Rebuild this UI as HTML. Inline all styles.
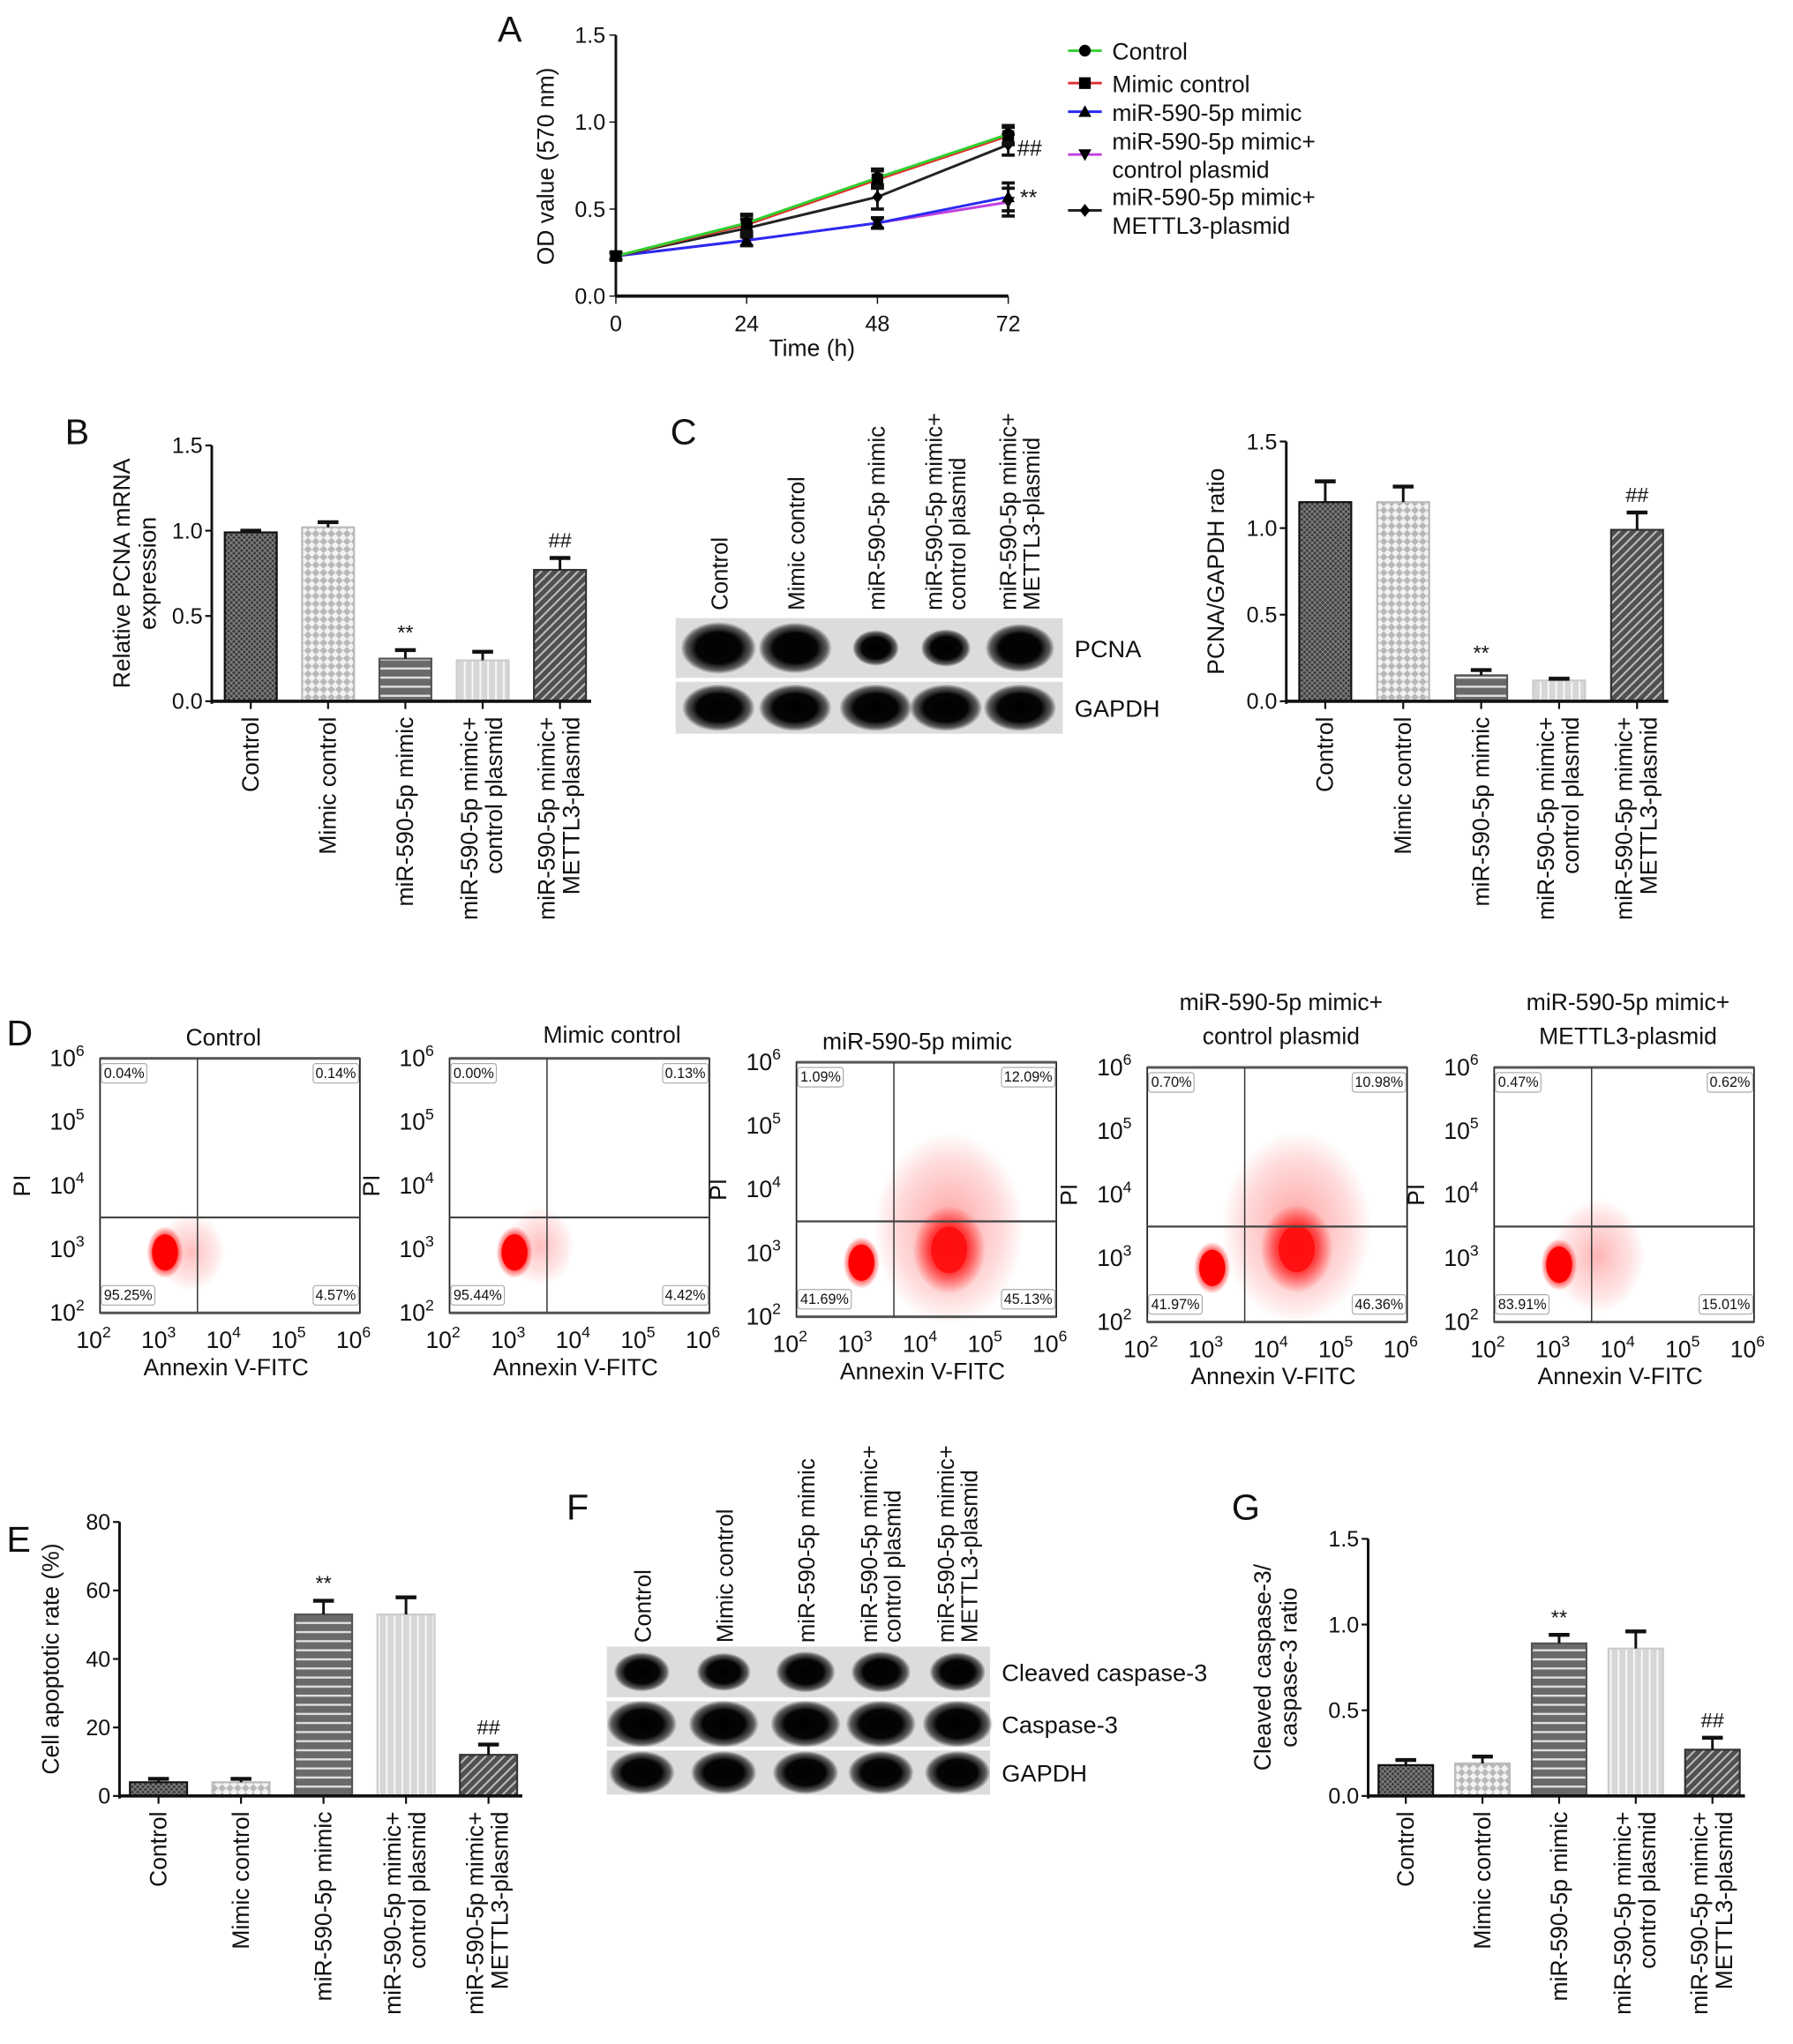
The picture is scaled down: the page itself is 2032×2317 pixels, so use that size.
<!DOCTYPE html>
<html><head><meta charset="utf-8"><style>
html,body{margin:0;padding:0;background:#fff;}
svg{display:block;font-family:"Liberation Sans",Arial,sans-serif;}
</style></head><body>
<svg id="fig" width="2032" height="2317" viewBox="0 0 1380 1574" preserveAspectRatio="none" xmlns="http://www.w3.org/2000/svg">
<defs>
<pattern id="pCtrl" width="4" height="4" patternUnits="userSpaceOnUse"><rect width="4" height="4" fill="#3c3c3c"/><path d="M0 0L4 4M4 0L0 4" stroke="#8a8a8a" stroke-width="0.7"/></pattern>
<pattern id="pMimic" width="6" height="6" patternUnits="userSpaceOnUse"><rect width="6" height="6" fill="#f2f2f2"/><path d="M0 3L3 0L6 3L3 6Z" fill="#b8b8b8"/></pattern>
<pattern id="pHoriz" width="6" height="7" patternUnits="userSpaceOnUse"><rect width="6" height="7" fill="#6a6a6a"/><rect y="3" width="6" height="1.6" fill="#e0e0e0"/></pattern>
<pattern id="pVert" width="6" height="6" patternUnits="userSpaceOnUse"><rect width="6" height="6" fill="#d6d6d6"/><rect x="3" width="1.4" height="6" fill="#f6f6f6"/></pattern>
<pattern id="pDiag" width="5" height="5" patternUnits="userSpaceOnUse" patternTransform="rotate(45)"><rect width="5" height="5" fill="#505050"/><rect width="1.4" height="5" fill="#bdbdbd"/></pattern>
<radialGradient id="band"><stop offset="0" stop-color="#000"/><stop offset="0.6" stop-color="#050505"/><stop offset="0.85" stop-color="#222" stop-opacity="0.7"/><stop offset="1" stop-color="#000" stop-opacity="0"/></radialGradient>
<radialGradient id="dot"><stop offset="0" stop-color="#f00" stop-opacity="1"/><stop offset="0.55" stop-color="#f00" stop-opacity="0.9"/><stop offset="1" stop-color="#f00" stop-opacity="0"/></radialGradient>
<radialGradient id="haze"><stop offset="0" stop-color="#f22" stop-opacity="0.45"/><stop offset="0.7" stop-color="#f44" stop-opacity="0.2"/><stop offset="1" stop-color="#f44" stop-opacity="0"/></radialGradient>
</defs>
<g id="root"></g>
</svg>
<script>
// ---------- DATA ----------
const groups = ["Control","Mimic control","miR-590-5p mimic","miR-590-5p mimic+ control plasmid","miR-590-5p mimic+ METTL3-plasmid"];
const groupLines = [["Control"],["Mimic control"],["miR-590-5p mimic"],["miR-590-5p mimic+","control plasmid"],["miR-590-5p mimic+","METTL3-plasmid"]];
// Panel A
const timePoints = [0,24,48,72];
const odControl = [0.23,0.42,0.68,0.93];
const odMimicCtrl = [0.23,0.41,0.67,0.92];
const odMimic = [0.23,0.32,0.42,0.57];
const odMimicCP = [0.23,0.32,0.42,0.54];
const odMimicMETTL3 = [0.23,0.39,0.57,0.87];
const odErr = [0.02,0.05,0.05,0.05];
const odErrMETTL3 = [0.02,0.05,0.07,0.06];
const odErrLow = [0.02,0.03,0.03,0.08];
const odTicks = [0,0.5,1.0,1.5];
// Panel B
const pcnaMrna = [0.99,1.02,0.25,0.24,0.77];
const pcnaMrnaErr = [0.01,0.03,0.05,0.05,0.07];
// Panel C
const pcnaRatio = [1.15,1.15,0.15,0.12,0.99];
const pcnaRatioErr = [0.12,0.09,0.03,0.01,0.10];
const pcnaBand = [1.0,0.95,0.3,0.38,0.85];
const ratioTicks = [0,0.5,1.0,1.5];
// Panel D
const flowPct = [["0.04%","0.14%","95.25%","4.57%"],["0.00%","0.13%","95.44%","4.42%"],["1.09%","12.09%","41.69%","45.13%"],["0.70%","10.98%","41.97%","46.36%"],["0.47%","0.62%","83.91%","15.01%"]];
const flowLiveLogX = [3.0,3.0,3.0,3.0,3.0];
const flowLiveLogY = [2.95,2.95,2.85,2.85,2.9];
const flowApopLogX = [3.4,3.4,4.35,4.3,3.6];
const flowApopLogY = [2.9,3.0,3.05,3.15,2.9];
const flowApopAmount = [0.15,0.15,0.95,0.95,0.4];
// Panel E
const apoRate = [4,4,53,53,12];
const apoErr = [1,1,4,5,3];
const apoTicks = [0,20,40,60,80];
// Panel G
const caspRatio = [0.18,0.19,0.89,0.86,0.27];
const caspErr = [0.03,0.04,0.05,0.10,0.07];

// ---------- helpers ----------
const NS="http://www.w3.org/2000/svg";
const root=document.getElementById('root');
function mk(tag,attrs,parent){const e=document.createElementNS(NS,tag);for(const k in attrs)e.setAttribute(k,attrs[k]);(parent||root).appendChild(e);return e;}
function txt(s,x,y,size,parent,extra){const e=mk('text',Object.assign({x:x,y:y,'font-size':size,fill:'#111'},extra||{}),parent);e.textContent=s;return e;}
const fills=['url(#pCtrl)','url(#pMimic)','url(#pHoriz)','url(#pVert)','url(#pDiag)'];
const strokes=['#111','#bbb','#555','#ccc','#333'];

function barChart(o){
  const g=mk('g',{});
  
  
  const y=v=>o.yBot-(v/o.max)*(o.yBot-o.yTop);
  o.vals.forEach((v,i)=>{
    const cx=o.c0+i*o.step;
    const b=mk('rect',{x:cx-o.bw/2,y:y(v),width:o.bw,height:o.yBot-y(v),fill:fills[i],stroke:strokes[i],'stroke-width':1.5},g);
    
    
    const ey=y(v+o.err[i]);
    mk('line',{x1:cx,x2:cx,y1:y(v),y2:ey,stroke:'#111','stroke-width':2},g);
    mk('line',{x1:cx-8,x2:cx+8,y1:ey,y2:ey,stroke:'#111','stroke-width':3},g);
    if(o.marks&&o.marks[i]){const m=txt(o.marks[i],cx,ey-8,16,g,{'text-anchor':'middle'});}
    const lines=groupLines[i];
    const xs=lines.length===1?[cx+6]:[cx-4,cx+15];
    lines.forEach((ln,k)=>{
      const t=txt(ln,xs[k],o.yBot+12,18,g,{'text-anchor':'end',transform:`rotate(-90 ${xs[k]} ${o.yBot+12})`});
      
      
    });
    mk('line',{x1:cx,x2:cx,y1:o.yBot,y2:o.yBot+6,stroke:'#111','stroke-width':1.5},g);
  });
  const ax=mk('line',{x1:o.x0,x2:o.x0,y1:o.yTop,y2:o.yBot+2,stroke:'#111','stroke-width':2},g);
  
  const bx=mk('line',{x1:o.x0,x2:o.c0+4*o.step+o.bw/2+4,y1:o.yBot,y2:o.yBot,stroke:'#111','stroke-width':2.5},g);
  
  o.ticks.forEach(t=>{
    mk('line',{x1:o.x0-5,x2:o.x0,y1:y(t),y2:y(t),stroke:'#111','stroke-width':1.5},g);
    const tl=txt(o.fmt(t),o.x0-7,y(t)+6,17,g,{'text-anchor':'end'});
    
  });
  const cy=(o.yTop+o.yBot)/2;
  o.title.forEach((ln,k)=>{
    const xx=o.titleX+k*20;
    const t=txt(ln,xx,cy,18,g,{'text-anchor':'middle',transform:`rotate(-90 ${xx} ${cy})`});
    
  });
}
function panelLetter(s,x,y){const t=txt(s,x,y,28,root);}
function blot(o){
  const g=mk('g',{});
  
  
  o.lanes.forEach((lx,i)=>{
    const lines=groupLines[i];
    const xs=lines.length===1?[lx+7]:[lx-3,lx+15];
    lines.forEach((ln,k)=>{
      const t=txt(ln,xs[k],o.labelBot,17.5,g,{'text-anchor':'start',transform:`rotate(-90 ${xs[k]} ${o.labelBot})`});
      
    });
  });
  o.strips.forEach((s,j)=>{
    const r=mk('rect',{x:o.x,y:s.y,width:o.w,height:s.h,fill:'#dcdcdc'},g);
    
    o.lanes.forEach((lx,i)=>{
      const a=s.amt[i];
      const b=mk('ellipse',{cx:lx,cy:s.y+s.h/2,rx:(s.rx||24)*(0.45+0.55*a),ry:(s.ry||16)*(0.55+0.45*a),fill:'url(#band)'},g);
      
    });
    const t=txt(s.label,o.x+o.w+9,s.y+s.h/2+7,18.5,g);
    
  });
}

// ---------- Panel A ----------
panelLetter('A',383,32);
(function(){
  const g=mk('g',{});
  
  
  const X0=474,X1=776,YT=27,YB=228;
  const x=t=>X0+t/72*(X1-X0), y=v=>YB-v/1.5*(YB-YT);
  mk('line',{x1:X0,x2:X0,y1:YT,y2:YB,stroke:'#111','stroke-width':2},g);
  mk('line',{x1:X0,x2:X1,y1:YB,y2:YB,stroke:'#111','stroke-width':2.5},g);
  odTicks.forEach(t=>{mk('line',{x1:X0-5,x2:X0,y1:y(t),y2:y(t),stroke:'#111'},g);const l=txt(t.toFixed(1),X0-8,y(t)+6,17,g,{'text-anchor':'end'});});
  timePoints.forEach(t=>{mk('line',{x1:x(t),x2:x(t),y1:YB,y2:YB+6,stroke:'#111'},g);const l=txt(String(t),x(t),YB+27,17,g,{'text-anchor':'middle'});});
  const xt=txt('Time (h)',625,274,18,g,{'text-anchor':'middle'});
  const yt=txt('OD value (570 nm)',426,128,18,g,{'text-anchor':'middle',transform:'rotate(-90 426 128)'});
  const series=[
    {v:odMimicCP,e:odErrLow,c:'#c040e0',m:'tri-down',name:'series-mimic-control-plasmid'},
    {v:odMimic,e:odErrLow,c:'#2a2af0',m:'tri',name:'series-mimic'},
    {v:odMimicMETTL3,e:odErrMETTL3,c:'#222',m:'diamond',name:'series-mimic-mettl3'},
    {v:odMimicCtrl,e:odErr,c:'#e03030',m:'square',name:'series-mimic-control'},
    {v:odControl,e:odErr,c:'#30d030',m:'circle',name:'series-control'}];
  function marker(m,cx,cy,p){
    if(m==='circle')mk('circle',{cx:cx,cy:cy,r:4.5,fill:'#000'},p);
    else if(m==='square')mk('rect',{x:cx-4.5,y:cy-4.5,width:9,height:9,fill:'#000'},p);
    else if(m==='tri')mk('path',{d:`M${cx} ${cy-5}L${cx+5} ${cy+4}L${cx-5} ${cy+4}Z`,fill:'#000'},p);
    else if(m==='tri-down')mk('path',{d:`M${cx} ${cy+5}L${cx+5} ${cy-4}L${cx-5} ${cy-4}Z`,fill:'#000'},p);
    else mk('path',{d:`M${cx} ${cy-5}L${cx+4} ${cy}L${cx} ${cy+5}L${cx-4} ${cy}Z`,fill:'#000'},p);
  }
  series.forEach(s=>{
    const sg=mk('g',{},g);
    
    
    mk('polyline',{points:timePoints.map((t,i)=>x(t)+','+y(s.v[i])).join(' '),fill:'none',stroke:s.c,'stroke-width':2},sg);
    timePoints.forEach((t,i)=>{
      const a=y(s.v[i]+s.e[i]),b=y(s.v[i]-s.e[i]);
      mk('line',{x1:x(t),x2:x(t),y1:a,y2:b,stroke:'#111','stroke-width':2},sg);
      mk('line',{x1:x(t)-5,x2:x(t)+5,y1:a,y2:a,stroke:'#111','stroke-width':2.5},sg);
      mk('line',{x1:x(t)-5,x2:x(t)+5,y1:b,y2:b,stroke:'#111','stroke-width':2.5},sg);
      marker(s.m,x(t),y(s.v[i]),sg);
    });
  });
  const s1=txt('##',783,120,17,g);
  const s2=txt('**',785,158,17,g);
  const leg=[{c:'#30d030',m:'circle',t:['Control'],y:39},{c:'#e03030',m:'square',t:['Mimic control'],y:64},{c:'#2a2af0',m:'tri',t:['miR-590-5p mimic'],y:86},{c:'#c040e0',m:'tri-down',t:['miR-590-5p mimic+','control plasmid'],y:119},{c:'#222',m:'diamond',t:['miR-590-5p mimic+','METTL3-plasmid'],y:162}];
  leg.forEach(l=>{
    const lg=mk('g',{},g);
    
    
    mk('line',{x1:822,x2:848,y1:l.y,y2:l.y,stroke:l.c,'stroke-width':2},lg);
    marker(l.m,835,l.y,lg);
    if(l.t.length===1)txt(l.t[0],856,l.y+7,18,lg);
    else{txt(l.t[0],856,l.y-4,18,lg);txt(l.t[1],856,l.y+18,18,lg);}
  });
})();

// ---------- Panel B ----------
panelLetter('B',50,342);
barChart({name:'pcna-mrna-chart',vals:pcnaMrna,err:pcnaMrnaErr,marks:['','','**','','##'],x0:163,yTop:343,yBot:540,max:1.5,ticks:[0,0.5,1.0,1.5],fmt:v=>v.toFixed(1),c0:193,step:59.5,bw:40,title:['Relative PCNA mRNA','expression'],titleX:100});

// ---------- Panel C ----------
panelLetter('C',516,342);
blot({name:'pcna-western-blot',lanes:[553,612,674,728,785],labelBot:470,x:520,w:298,strips:[
  {y:476,h:46,label:'PCNA',amt:pcnaBand,rx:29,ry:20},
  {y:525,h:40,label:'GAPDH',amt:[1,1,1,1,1],rx:28,ry:18}]});
barChart({name:'pcna-gapdh-ratio-chart',vals:pcnaRatio,err:pcnaRatioErr,marks:['','','**','','##'],x0:990,yTop:340,yBot:540,max:1.5,ticks:ratioTicks,fmt:v=>v.toFixed(1),c0:1020,step:60,bw:40,title:['PCNA/GAPDH ratio'],titleX:942});

// ---------- Panel D ----------
panelLetter('D',5,805);
const flowBoxes=[[77,815],[346,815],[613,818],[883,822],[1150,822]];
const flowTitles=[["Control"],["Mimic control"],["miR-590-5p mimic"],["miR-590-5p mimic+","control plasmid"],["miR-590-5p mimic+","METTL3-plasmid"]];
flowBoxes.forEach((b,i)=>{
  const g=mk('g',{});
  
  
  const L=b[0],T=b[1],W=200,H=196,B=T+H;
  const lx=v=>L+(v-2)/4*W, ly=v=>B-(v-2)/4*H;
  const ap=flowApopAmount[i];
  mk('ellipse',{cx:lx(flowApopLogX[i]),cy:ly(flowApopLogY[i]+0.35*ap),rx:20+40*ap,ry:22+55*ap,fill:'url(#haze)',opacity:0.6+0.4*ap},g);
  if(ap>0.5){
    mk('ellipse',{cx:lx(flowApopLogX[i]),cy:ly(flowApopLogY[i]),rx:28,ry:34,fill:'url(#dot)',opacity:0.75},g);
    mk('ellipse',{cx:lx(flowApopLogX[i]),cy:ly(flowApopLogY[i]),rx:14,ry:18,fill:'#f00',opacity:0.7},g);
  }
  mk('ellipse',{cx:lx(flowLiveLogX[i]),cy:ly(flowLiveLogY[i]),rx:14,ry:20,fill:'url(#dot)'},g);
  mk('ellipse',{cx:lx(flowLiveLogX[i]),cy:ly(flowLiveLogY[i]),rx:10,ry:14,fill:'#f00'},g);
  mk('rect',{x:L,y:T,width:W,height:H,fill:'none',stroke:'#222','stroke-width':1.2},g);
  mk('line',{x1:L,x2:L+W,y1:T,y2:T,stroke:'#555','stroke-width':2},g);
  mk('line',{x1:L,x2:L+W,y1:B,y2:B,stroke:'#555','stroke-width':2},g);
  mk('line',{x1:lx(3.5),x2:lx(3.5),y1:T,y2:B,stroke:'#333','stroke-width':1},g);
  mk('line',{x1:L,x2:L+W,y1:ly(3.5),y2:ly(3.5),stroke:'#444','stroke-width':1.5},g);
  const p=flowPct[i];
  [[L+3,T+15,'start',p[0]],[L+W-3,T+15,'end',p[1]],[L+3,B-10,'start',p[2]],[L+W-3,B-10,'end',p[3]]].forEach(q=>{
    const wq=q[3].length*6.2+4;
    mk('rect',{x:q[2]==='start'?q[0]-2:q[0]-wq+2,y:q[1]-11,width:wq,height:15,fill:'#fff',stroke:'#aaa','stroke-width':0.8,rx:2},g);
    const t=txt(q[3],q[0],q[1],11,g,{'text-anchor':q[2]});
    
  });
  [2,3,4,5,6].forEach(k=>{
    const tx=txt('10',lx(k)-5,B+27,18,g,{'text-anchor':'middle'});
    const sup=mk('tspan',{dy:-8,'font-size':12},tx);sup.textContent=String(k);
    
    const ty=txt('10',L-12,ly(k)+6,18,g,{'text-anchor':'end'});
    const sup2=mk('tspan',{dy:-8,'font-size':12},ty);sup2.textContent=String(k);
    
  });
  const xt=txt('Annexin V-FITC',L+W/2-3,B+48,18,g,{'text-anchor':'middle'});
  
  const pyy=ly(4);
  const yt=txt('PI',L-54,pyy,18,g,{'text-anchor':'middle',transform:`rotate(-90 ${L-54} ${pyy})`});
  
  const tl=flowTitles[i];
  if(tl.length===1){const t=txt(tl[0],L+W/2-(i===0?5:-25)*(i<2?1:0)+(i===2?-7:0),T-10+(i===1?-2:0),18,g,{'text-anchor':'middle'});}
  else{const t1=txt(tl[0],L+W/2+3,T-44,18,g,{'text-anchor':'middle'});const t2=txt(tl[1],L+W/2+3,T-18,18,g,{'text-anchor':'middle'});}
});

// ---------- Panel E ----------
panelLetter('E',5,1195);
barChart({name:'apoptotic-rate-chart',vals:apoRate,err:apoErr,marks:['','','**','','##'],x0:92,yTop:1172,yBot:1383,max:80,ticks:apoTicks,fmt:v=>String(v),c0:122,step:63.5,bw:44,title:['Cell apoptotic rate (%)'],titleX:45});

// ---------- Panel F ----------
panelLetter('F',436,1170);
blot({name:'caspase-western-blot',lanes:[494,557,620,678,737],labelBot:1265,x:467,w:295,strips:[
  {y:1268,h:39,label:'Cleaved caspase-3',amt:[0.75,0.7,0.85,0.85,0.75],rx:25,ry:17},
  {y:1310,h:35,label:'Caspase-3',amt:[1,1,1,1,1],rx:27,ry:18},
  {y:1348,h:34,label:'GAPDH',amt:[0.95,0.95,0.95,0.95,0.95],rx:26,ry:17}]});

// ---------- Panel G ----------
panelLetter('G',948,1170);
barChart({name:'cleaved-caspase-ratio-chart',vals:caspRatio,err:caspErr,marks:['','','**','','##'],x0:1053,yTop:1185,yBot:1383,max:1.5,ticks:ratioTicks,fmt:v=>v.toFixed(1),c0:1082,step:59,bw:42,title:['Cleaved caspase-3/','caspase-3 ratio'],titleX:978});
</script>
</body></html>
